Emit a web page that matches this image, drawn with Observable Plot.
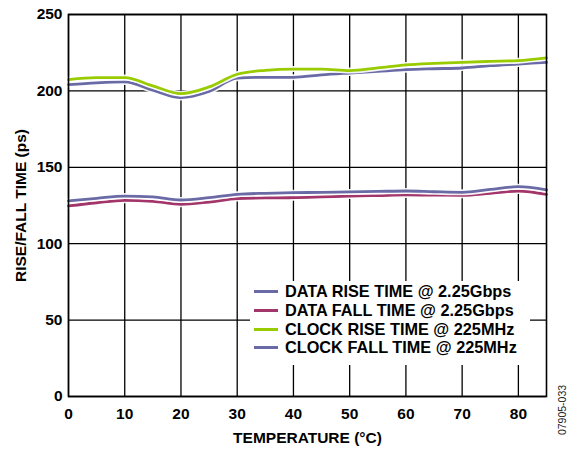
<!DOCTYPE html>
<html><head><meta charset="utf-8">
<script src="https://cdn.jsdelivr.net/npm/d3@7"></script>
<script src="https://cdn.jsdelivr.net/npm/@observablehq/plot@0.6"></script>
<style>
body{margin:0;background:#fff;}
#wrap{position:relative;width:568px;height:449px;font-family:"Liberation Sans",Arial,sans-serif;}
#legend{position:absolute;left:250px;top:281px;width:280px;height:84px;background:#fff;}
.row{position:absolute;left:4px;height:19px;display:flex;align-items:center;font-weight:bold;font-size:16.3px;color:#000;white-space:nowrap;}
.sw{width:24px;height:3px;margin-right:7px;}
#code{position:absolute;left:562px;top:410px;transform:translate(-50%,-50%) rotate(-90deg);font-size:10.5px;color:#222;white-space:nowrap;}
</style>
</head><body>
<div id="wrap"></div>
<script>
const temps = [0,5,10,15,20,25,30,35,40,45,50,55,60,65,70,75,80,85];
const dataRise = [128,129.7,131.2,130.6,128.6,130.1,132.3,133,133.4,133.6,133.9,134.2,134.5,134,133.6,135.5,137.3,135.2];
const dataFall = [124.7,126.8,128.4,127.7,125.8,127.3,129.5,130,130.1,130.6,131.2,131.5,131.9,131.8,131.7,133,134.5,132.3];
const clockRise = [207.4,208.7,208.7,203.3,198.2,202.6,210.9,213.5,214.3,214.3,213.3,215,217,218,218.7,219.3,219.8,221.6];
const clockFall = [204.1,205.3,205.9,200.5,195.6,199.6,208.3,208.9,208.9,210.5,211.7,212.8,213.9,214.5,215,216.5,217.6,218.7];
const seriesNames = ["DATA RISE TIME @ 2.25Gbps","DATA FALL TIME @ 2.25Gbps","CLOCK RISE TIME @ 225MHz","CLOCK FALL TIME @ 225MHz"];
const seriesColors = ["#6a6aa6","#a2356a","#99cc00","#6a6aa6"];
const xTicks = [0,10,20,30,40,50,60,70,80];
const yTicks = [0,50,100,150,200,250];

const seriesValues = [dataRise, dataFall, clockRise, clockFall];
const rows = [];
seriesValues.forEach((vals, i) => vals.forEach((v, j) => rows.push({series: seriesNames[i], t: temps[j], v})));

const lineMarks = [];
[3,2,1,0].forEach(i => {
  const d = rows.filter(r => r.series === seriesNames[i]);
  lineMarks.push(Plot.line(d, {x: "t", y: "v", stroke: "#fff", strokeWidth: 6, curve: "monotone-x", strokeOpacity: 0.9}));
  lineMarks.push(Plot.line(d, {x: "t", y: "v", stroke: seriesColors[i], strokeWidth: 2.8, curve: "monotone-x"}));
});

const chart = Plot.plot({
  width: 568, height: 449,
  marginLeft: 68, marginRight: 22, marginTop: 14, marginBottom: 53,
  style: {fontFamily: '"Liberation Sans", Arial, sans-serif', fontSize: "15.5px", fontWeight: "bold", color: "#000", background: "#fff"},
  x: {domain: [0, 85], ticks: xTicks, tickSize: 0, tickPadding: 11, label: "TEMPERATURE (°C)", labelAnchor: "center", labelOffset: 46, labelArrow: "none"},
  y: {domain: [0, 250], ticks: yTicks, tickSize: 0, tickPadding: 6, label: "RISE/FALL TIME (ps)", labelAnchor: "center", labelOffset: 54, labelArrow: "none"},
  marks: [
    Plot.gridX(xTicks, {stroke: "#000", strokeOpacity: 1, strokeWidth: 1.3}),
    Plot.gridY(yTicks, {stroke: "#000", strokeOpacity: 1, strokeWidth: 1.3}),
    ...lineMarks,
    Plot.frame({stroke: "#000", strokeWidth: 1.6})
  ]
});
const wrap = document.getElementById("wrap");
wrap.appendChild(chart);

const legend = document.createElement("div");
legend.id = "legend";
seriesNames.forEach((name, i) => {
  const r = document.createElement("div");
  r.className = "row";
  r.style.top = (1 + i * 18.8) + "px";
  const sw = document.createElement("span");
  sw.className = "sw"; sw.style.background = seriesColors[i];
  r.appendChild(sw);
  r.appendChild(document.createTextNode(name));
  legend.appendChild(r);
});
wrap.appendChild(legend);
const code = document.createElement("div");
code.id = "code"; code.textContent = "07905-033";
wrap.appendChild(code);
</script>
</body></html>
